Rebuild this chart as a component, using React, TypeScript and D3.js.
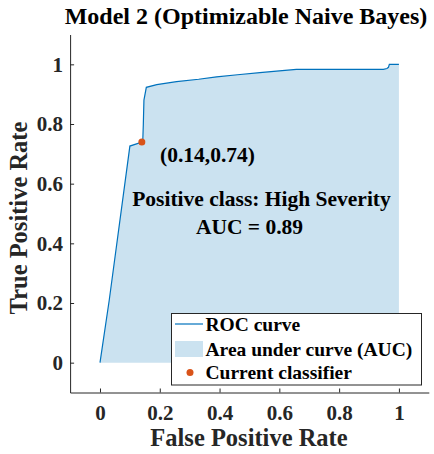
import React, { useEffect, useRef } from 'react';
import * as d3 from 'd3';

// ROC points (false positive rate, true positive rate)
const fpr = [0, 0.031, 0.1, 0.143, 0.145, 0.147, 0.155, 0.19, 0.256, 0.33, 0.39, 0.46, 0.535, 0.6, 0.657, 0.8, 0.948, 0.96, 0.965, 0.968, 1.0];
const tpr = [0, 0.21, 0.726, 0.74, 0.8, 0.88, 0.923, 0.932, 0.942, 0.95, 0.958, 0.965, 0.972, 0.978, 0.983, 0.983, 0.983, 0.986, 0.99, 1.0, 1.0];
const current = { x: 0.14, y: 0.74 };
const ticks = [0, 0.2, 0.4, 0.6, 0.8, 1];
const yTicks = [0, 0.2, 0.4, 0.6, 0.8, 1];
const legendItems = ['ROC curve', 'Area under curve (AUC)', 'Current classifier'];

const W = 434, H = 454;
const FONT = '"Liberation Serif", "Times New Roman", serif';
const LINE = '#0072BD';
const FILL = '#cbe2f0';
const DOT = '#D95319';
const AX = '#262626';

const App = () => {
  const ref = useRef<SVGSVGElement | null>(null);

  useEffect(() => {
    if (!ref.current) return;
    const svg = d3.select(ref.current);
    svg.selectAll('*').remove();

    const x = d3.scaleLinear().domain([-0.1, 1.1]).range([70.1, 428.8]);
    const y = d3.scaleLinear().domain([-0.1, 1.1]).range([392.5, 34.5]);

    const pts = fpr.map((f, i) => [f, tpr[i]] as [number, number]);

    // area under curve
    const area = d3.area<[number, number]>()
      .x(d => x(d[0]))
      .y0(y(0))
      .y1(d => y(d[1]));
    svg.append('path').datum(pts).attr('d', area).attr('fill', FILL);

    // roc line
    const line = d3.line<[number, number]>().x(d => x(d[0])).y(d => y(d[1]));
    svg.append('path').datum(pts).attr('d', line)
      .attr('fill', 'none').attr('stroke', LINE).attr('stroke-width', 1.2);

    // current classifier
    svg.append('circle').attr('cx', x(current.x)).attr('cy', y(current.y))
      .attr('r', 3.5).attr('fill', DOT);

    // axes (ticks point inward)
    const xAxis = svg.append('g').attr('transform', `translate(0,${y(-0.1)})`)
      .call(d3.axisBottom(x).tickValues(ticks).tickSizeInner(-4).tickSizeOuter(0).tickPadding(13)
        .tickFormat(d => d3.format('~g')(d as number)));
    const yAxis = svg.append('g').attr('transform', `translate(${x(-0.1)},0)`)
      .call(d3.axisLeft(y).tickValues(yTicks).tickSizeInner(-4).tickSizeOuter(0).tickPadding(7)
        .tickFormat(d => d3.format('~g')(d as number)));
    [xAxis, yAxis].forEach(g => {
      g.select('.domain').attr('stroke', AX);
      g.selectAll('line').attr('stroke', AX);
      g.selectAll('text').attr('fill', AX).style('font-family', FONT)
        .style('font-weight', 'bold').style('font-size', '21px');
    });

    // titles
    svg.append('text').attr('x', 246).attr('y', 24).attr('text-anchor', 'middle')
      .style('font-family', FONT).style('font-weight', 'bold').style('font-size', '24px')
      .attr('fill', '#000').text('Model 2 (Optimizable Naive Bayes)');
    svg.append('text').attr('x', 249).attr('y', 446).attr('text-anchor', 'middle')
      .style('font-family', FONT).style('font-weight', 'bold').style('font-size', '24.5px')
      .attr('fill', AX).text('False Positive Rate');
    svg.append('text').attr('transform', `translate(27,218) rotate(-90)`).attr('text-anchor', 'middle')
      .style('font-family', FONT).style('font-weight', 'bold').style('font-size', '24.5px')
      .attr('fill', AX).text('True Positive Rate');

    // annotations
    svg.append('text').attr('x', 160).attr('y', 162)
      .style('font-family', FONT).style('font-weight', 'bold').style('font-size', '21.5px')
      .attr('fill', '#000').text(`(${current.x},${current.y})`);
    svg.append('text').attr('x', 261.5).attr('y', 206).attr('text-anchor', 'middle')
      .style('font-family', FONT).style('font-weight', 'bold').style('font-size', '21.5px')
      .attr('fill', '#000').text('Positive class: High Severity');
    svg.append('text').attr('x', 249.5).attr('y', 234).attr('text-anchor', 'middle')
      .style('font-family', FONT).style('font-weight', 'bold').style('font-size', '21.5px')
      .attr('fill', '#000').text('AUC = 0.89');

    // legend
    const lg = svg.append('g');
    lg.append('rect').attr('x', 171.5).attr('y', 313.5).attr('width', 250).attr('height', 71.5)
      .attr('fill', '#fff').attr('stroke', AX).attr('stroke-width', 1);
    const rowY = [324, 349, 372.5];
    lg.append('line').attr('x1', 175).attr('x2', 203).attr('y1', rowY[0]).attr('y2', rowY[0])
      .attr('stroke', LINE).attr('stroke-width', 1.2);
    lg.append('rect').attr('x', 175).attr('y', rowY[1] - 8).attr('width', 28).attr('height', 16)
      .attr('fill', FILL);
    lg.append('circle').attr('cx', 190).attr('cy', rowY[2]).attr('r', 3.5).attr('fill', DOT);
    lg.selectAll('text.item').data(legendItems).enter().append('text')
      .attr('class', 'item')
      .attr('x', 205.5).attr('y', (_, i) => rowY[i]).attr('dy', '0.35em')
      .style('font-family', FONT).style('font-weight', 'bold').style('font-size', '19.5px')
      .attr('fill', '#000').text(d => d);
  }, []);

  return <svg ref={ref} width={W} height={H} style={{ display: 'block', position: 'absolute', left: 0, top: 0 }} />;
};

export default App;
